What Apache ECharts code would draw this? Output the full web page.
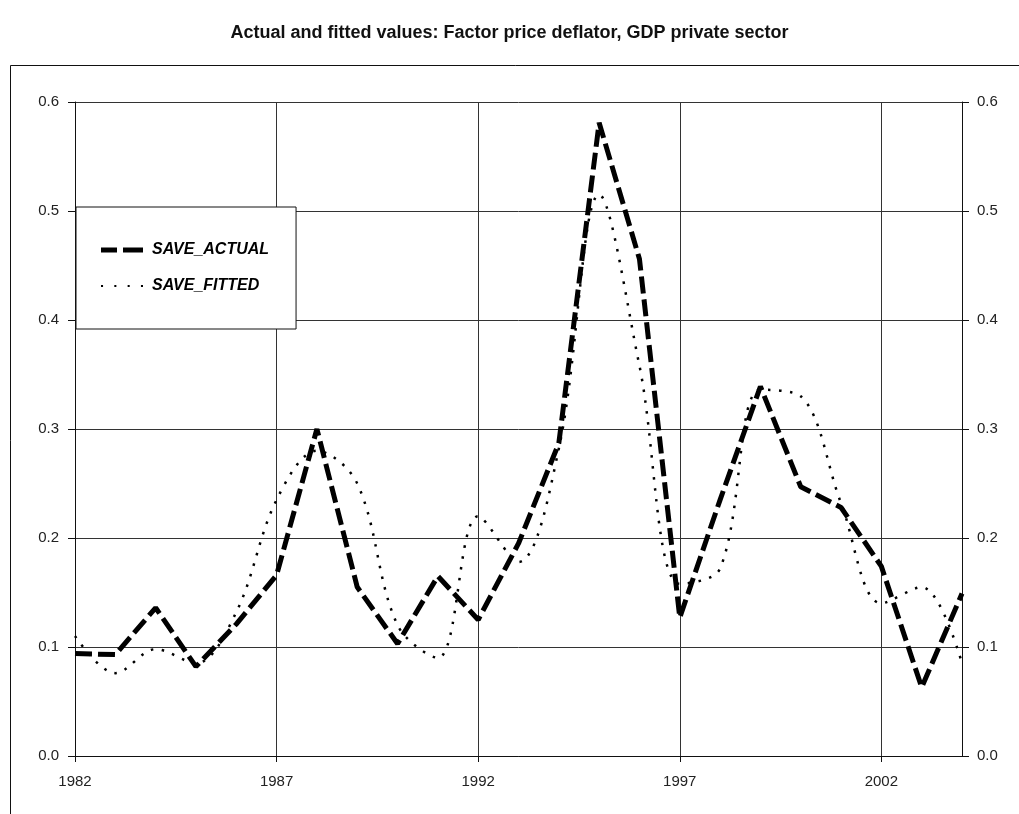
<!DOCTYPE html>
<html>
<head>
<meta charset="utf-8">
<script src="https://cdn.jsdelivr.net/npm/echarts@6/dist/echarts.min.js"></script>
<style>
  html, body { margin: 0; padding: 0; background: #fff; }
  #chart { width: 1019px; height: 814px; }
</style>
</head>
<body>
<div id="chart"></div>
<script>
// years on the x axis
var years = [];
for (var y = 1982; y <= 2004; y++) years.push(String(y));

// one value per year
var saveActual = [0.094, 0.093, 0.136, 0.082, 0.121, 0.166, 0.300, 0.155, 0.103, 0.165, 0.125,
                  0.195, 0.287, 0.581, 0.456, 0.127, 0.235, 0.339, 0.247, 0.228, 0.174, 0.063, 0.149];
var saveFitted = [0.110, 0.076, 0.098, 0.085, 0.132, 0.235, 0.280, 0.250, 0.120, 0.090, 0.220,
                  0.178, 0.282, 0.515, 0.358, 0.158, 0.172, 0.336, 0.330, 0.232, 0.140, 0.155, 0.085];

var yTicks = ['0.0', '0.1', '0.2', '0.3', '0.4', '0.5', '0.6'];

var chart = echarts.init(document.getElementById('chart'));

var labelStyle = {
    color: '#222',
    fontSize: 15,
    fontFamily: 'Liberation Sans, Arial, sans-serif'
};

// legend samples: two thick dashes / a row of small dots
var dashIcon = 'path://M0,0h16v5h-16z M22,0h20v5h-20z';
var dotIcon = 'path://M0,0h2v2h-2z M13,0h2v2h-2z M26,0h2v2h-2z M39,0h2v2h-2z';

var option = {
    animation: false,
    backgroundColor: '#fff',
    title: {
        text: 'Actual and fitted values: Factor price deflator, GDP private sector',
        left: 'center',
        top: 19,
        textStyle: {
            fontSize: 18,
            fontWeight: 'bold',
            color: '#111',
            fontFamily: 'Liberation Sans, Arial, sans-serif'
        }
    },
    graphic: [{
        type: 'rect',
        shape: { x: 10.5, y: 65.5, width: 1100, height: 900 },
        style: { fill: 'none', stroke: '#111', lineWidth: 1 },
        silent: true
    }],
    legend: {
        orient: 'vertical',
        left: 76,
        top: 207,
        padding: [35, 27, 35, 25],
        itemGap: 20,
        itemWidth: 42,
        itemHeight: 14,
        borderColor: '#111',
        borderWidth: 1,
        backgroundColor: '#fff',
        textStyle: {
            fontSize: 16,
            fontWeight: 'bold',
            fontStyle: 'italic',
            color: '#000',
            padding: [0, 0, 0, 4],
            fontFamily: 'Liberation Sans, Arial, sans-serif'
        },
        data: [
            { name: 'SAVE_ACTUAL', icon: dashIcon },
            { name: 'SAVE_FITTED', icon: dotIcon }
        ]
    },
    grid: {
        left: 75,
        right: 57,
        top: 102,
        bottom: 58
    },
    xAxis: {
        type: 'category',
        data: years,
        boundaryGap: false,
        axisLine: { lineStyle: { color: '#111', width: 1 } },
        axisTick: { show: true, interval: 4, length: 6, lineStyle: { color: '#111' } },
        axisLabel: Object.assign({ interval: 4, margin: 18 }, labelStyle),
        splitLine: { show: true, interval: 4, lineStyle: { color: '#333', width: 1 } }
    },
    yAxis: [{
        type: 'value',
        min: 0,
        max: 0.6,
        interval: 0.1,
        axisLine: { show: true, lineStyle: { color: '#111', width: 1 } },
        axisTick: { show: true, length: 7, lineStyle: { color: '#111' } },
        axisLabel: Object.assign({
            margin: 16,
            formatter: function (v) { return yTicks[Math.round(v * 10)]; }
        }, labelStyle),
        splitLine: { show: true, lineStyle: { color: '#333', width: 1 } }
    }, {
        type: 'value',
        position: 'right',
        min: 0,
        max: 0.6,
        interval: 0.1,
        axisLine: { show: true, lineStyle: { color: '#111', width: 1 } },
        axisTick: { show: true, length: 7, lineStyle: { color: '#111' } },
        axisLabel: Object.assign({
            margin: 15,
            formatter: function (v) { return yTicks[Math.round(v * 10)]; }
        }, labelStyle),
        splitLine: { show: false }
    }],
    series: [{
        name: 'SAVE_ACTUAL',
        type: 'line',
        symbol: 'none',
        data: saveActual,
        lineStyle: { color: '#000', width: 5, type: [17, 6] },
        itemStyle: { color: '#000' },
        z: 3
    }, {
        name: 'SAVE_FITTED',
        type: 'line',
        symbol: 'none',
        smooth: 0.35,
        data: saveFitted,
        lineStyle: { color: '#000', width: 2.5, type: [2.5, 8.5] },
        itemStyle: { color: '#000' },
        z: 2
    }]
};

chart.setOption(option);
</script>
</body>
</html>
